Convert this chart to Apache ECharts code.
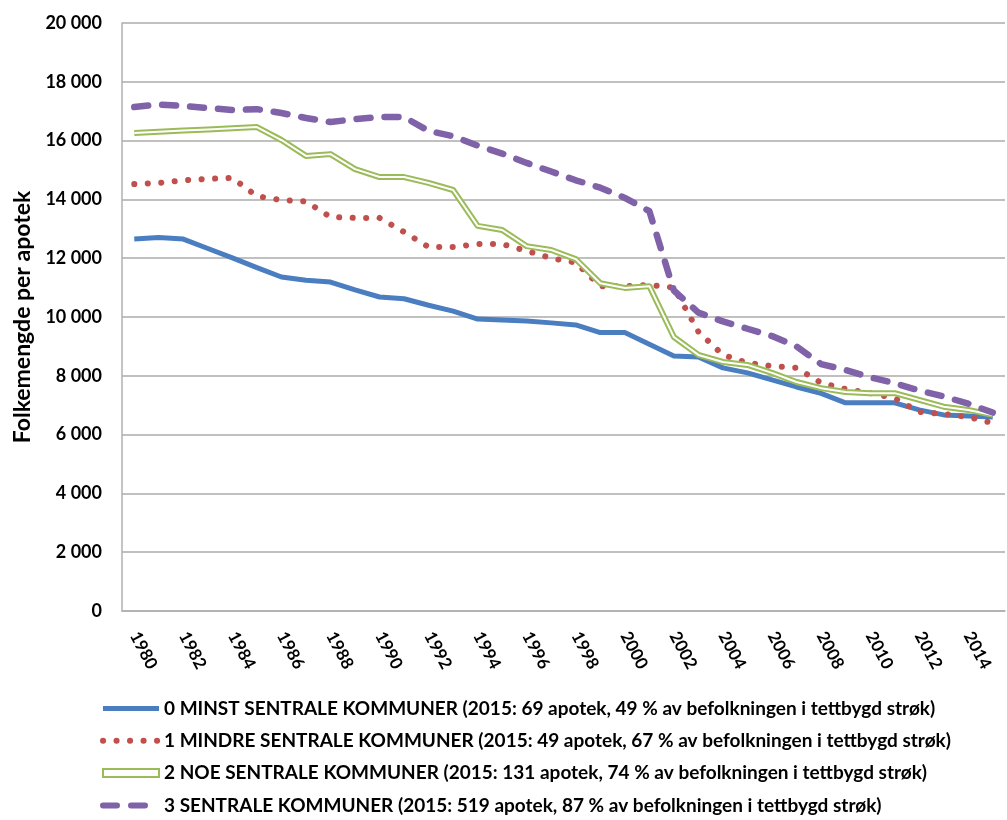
<!DOCTYPE html>
<html>
<head>
<meta charset="utf-8">
<script src="https://cdn.jsdelivr.net/npm/echarts@6/dist/echarts.min.js"></script>
<style>
  html, body { margin: 0; padding: 0; background: #fff; }
  #chart { width: 1007px; height: 820px; }
</style>
</head>
<body>
<div id="chart"></div>
<script>
  // years on the x axis
  const years = [];
  for (let y = 1980; y <= 2015; y++) years.push(String(y));

  const names = [
    '0 MINST SENTRALE KOMMUNER (2015: 69 apotek, 49 % av befolkningen i tettbygd strøk)',
    '1 MINDRE SENTRALE KOMMUNER (2015: 49 apotek, 67 % av befolkningen i tettbygd strøk)',
    '2 NOE SENTRALE KOMMUNER (2015: 131 apotek, 74 % av befolkningen i tettbygd strøk)',
    '3 SENTRALE KOMMUNER (2015: 519 apotek, 87 % av befolkningen i tettbygd strøk)'
  ];

  // folkemengde per apotek, 1980-2015
  const minstSentrale = [12650, 12700, 12650, 12330, 12010, 11680, 11360, 11250, 11190, 10920,
    10680, 10620, 10400, 10200, 9930, 9900, 9860, 9800, 9730, 9470,
    9470, 9070, 8670, 8640, 8270, 8100, 7860, 7620, 7400, 7080,
    7080, 7080, 6840, 6670, 6630, 6600];
  const mindreSentrale = [14520, 14560, 14650, 14700, 14730, 14110, 13980, 13930, 13400, 13370,
    13370, 12890, 12380, 12380, 12480, 12480, 12250, 12000, 11850, 11050,
    11050, 11090, 11000, 9500, 8710, 8440, 8330, 8270, 7760, 7550,
    7410, 7240, 6770, 6700, 6600, 6390];
  const noeSentrale = [16260, 16300, 16340, 16380, 16420, 16460, 16020, 15480, 15540, 15030,
    14760, 14760, 14560, 14320, 13100, 12960, 12410, 12280, 11970, 11150,
    10990, 11050, 9320, 8710, 8470, 8370, 8100, 7790, 7580, 7450,
    7410, 7410, 7180, 6950, 6840, 6670];
  const sentrale = [17140, 17230, 17180, 17110, 17040, 17070, 16940, 16770, 16630, 16730,
    16800, 16800, 16330, 16150, 15830, 15560, 15240, 14950, 14650, 14400,
    14050, 13600, 10900, 10150, 9850, 9600, 9350, 9000, 8400, 8200,
    7950, 7750, 7500, 7300, 7050, 6750];

  const yTicks = { min: 0, max: 20000, interval: 2000 };

  const font = 'Lato, "Liberation Sans", sans-serif';
  const myChart = echarts.init(document.getElementById('chart'));

  const option = {
    animation: false,
    grid: { left: 122, right: 2, top: 23, bottom: 209 },
    legend: {
      orient: 'vertical',
      left: 95,
      top: 694,
      itemGap: 13.3,
      itemWidth: 56,
      itemHeight: 8,
      itemStyle: { opacity: 0 },
      textStyle: { fontFamily: font, fontWeight: 'bold', fontSize: 19, color: '#000' },
      data: [
        { name: names[0], lineStyle: { width: 5 } },
        { name: names[1], lineStyle: { width: 6 } },
        { name: names[2], icon: 'rect', itemStyle: { opacity: 1, color: '#fff', borderColor: '#9BBB59', borderWidth: 2 } },
        { name: names[3], lineStyle: { width: 6 } }
      ]
    },
    xAxis: {
      type: 'category',
      data: years,
      boundaryGap: true,
      axisLine: { lineStyle: { color: '#b0b0b0', width: 1.5 } },
      axisTick: { alignWithLabel: true, interval: 0, length: 6, lineStyle: { color: '#b0b0b0' } },
      axisLabel: {
        interval: 1,
        rotate: -62,
        margin: 22,
        fontFamily: font,
        fontWeight: 'bold',
        fontSize: 17,
        color: '#000'
      }
    },
    yAxis: {
      type: 'value',
      min: yTicks.min,
      max: yTicks.max,
      interval: yTicks.interval,
      name: 'Folkemengde per apotek',
      nameLocation: 'middle',
      nameGap: 83,
      nameTextStyle: { fontFamily: font, fontWeight: 'bold', fontSize: 23, color: '#000' },
      axisLine: { show: true, lineStyle: { color: '#b0b0b0', width: 1.5 } },
      axisTick: { show: false },
      splitLine: { lineStyle: { color: '#c0c0c0', width: 1.8 } },
      axisLabel: {
        margin: 20,
        fontFamily: font,
        fontWeight: 'bold',
        fontSize: 18,
        color: '#000',
        formatter: v => String(v).replace(/\B(?=(\d{3})+(?!\d))/g, ' ')
      }
    },
    series: [
      {
        name: names[0],
        type: 'line',
        symbol: 'none',
        data: minstSentrale,
        itemStyle: { color: '#4A7EC1' },
        lineStyle: { color: '#4A7EC1', width: 5, join: 'round' }
      },
      {
        name: names[1],
        type: 'line',
        symbol: 'none',
        data: mindreSentrale,
        itemStyle: { color: '#C0504D' },
        lineStyle: { color: '#C0504D', width: 6, type: [0.1, 13.4], cap: 'round' }
      },
      {
        name: names[2],
        type: 'line',
        symbol: 'none',
        data: noeSentrale,
        itemStyle: { color: '#9BBB59' },
        lineStyle: { color: '#9BBB59', width: 6, join: 'round' }
      },
      {
        // white core of the double green line
        name: 'noe-inner',
        type: 'line',
        symbol: 'none',
        data: noeSentrale,
        silent: true,
        lineStyle: { color: '#fff', width: 2, join: 'round' }
      },
      {
        name: names[3],
        type: 'line',
        symbol: 'none',
        data: sentrale,
        itemStyle: { color: '#7F62A8' },
        lineStyle: { color: '#7F62A8', width: 6.5, type: [14, 14], cap: 'round', join: 'round' }
      }
    ]
  };

  myChart.setOption(option);
</script>
</body>
</html>
